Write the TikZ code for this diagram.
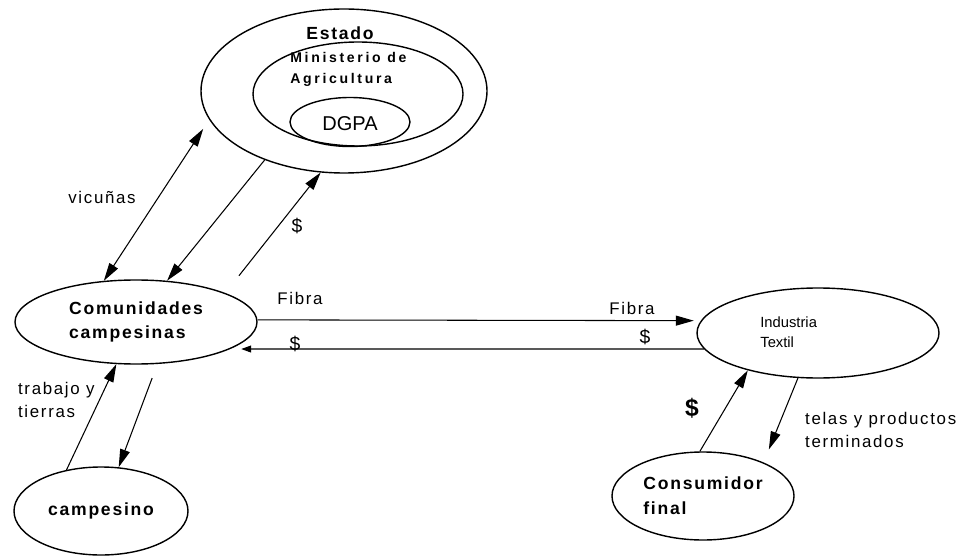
\documentclass[tikz,border=0pt]{standalone}
\usepackage{fontspec}
\setmainfont{Liberation Sans}
\newfontfamily\spaced[LetterSpace=10]{Liberation Sans}
\newfontfamily\widespaced[LetterSpace=19]{Liberation Sans}
\usetikzlibrary{arrows.meta,shapes.geometric}

\begin{document}
\begin{tikzpicture}[
  >={Triangle[length=3.6mm,width=2mm]},
  actor/.style={ellipse, draw, thick, inner sep=0pt, align=left,
    font=\spaced\bfseries\fontsize{10}{14}\selectfont},
  flow/.style={semithick},
  flowlabel/.style={font=\spaced\fontsize{9.6}{13.5}\selectfont, align=left, inner sep=1pt},
  money/.style={font=\fontsize{11}{12}\selectfont, inner sep=1pt}
]
\useasboundingbox (0,0) rectangle (19.32,11.14);
% Estado with its two inner rings
\node[actor, minimum width=5.72cm, minimum height=3.28cm] (estado) at (6.88,9.32) {};
\node[actor, minimum width=4.2cm, minimum height=2.08cm] (ministerio) at (7.16,9.26) {};
\node[actor, minimum width=2.4cm, minimum height=0.98cm] (dgpa) at (7.0,8.70) {};
\node[font=\spaced\bfseries\fontsize{10}{12}\selectfont] (estadotxt) at (6.8,10.48) {Estado};
\node[font=\widespaced\bfseries\fontsize{8}{12}\selectfont, align=left, anchor=west, inner sep=0pt]
  (ministeriotxt) at (5.8,9.75) {Ministerio de\\Agricultura};
\node[font=\fontsize{11.4}{13}\selectfont] (dgpatxt) at (7.0,8.66) {DGPA};
% the other actors
\node[actor, minimum width=4.84cm, minimum height=1.68cm] (comunidades) at (2.72,4.70) {Comunidades\\campesinas};
\node[actor, minimum width=3.48cm, minimum height=1.76cm] (campesino) at (2.02,0.92) {campesino};
\node[actor, minimum width=4.84cm, minimum height=1.8cm] (industria) at (16.36,4.48) {};
\node[font=\fontsize{8.4}{11.4}\selectfont, align=left, anchor=west, inner sep=0pt]
  (industriatxt) at (15.2,4.5) {Industria\\Textil};
\node[actor, minimum width=3.64cm, minimum height=1.76cm] (consumidor) at (14.06,1.22) {Consumidor\\final};
% flows
\draw[flow, <->, shorten >=0.22cm] (comunidades.128) -- (estado.192);
\draw[flow, ->] (estado.221) -- (comunidades.53);
\draw[flow, ->, shorten <=0.44cm] (comunidades.18) -- (estado.254);
\draw[flow, ->, shorten >=0.14cm] (comunidades.1) -- (industria.174);
\draw[flow, -{Triangle[length=2mm,width=1.4mm]}, shorten >=0.22cm] (industria.188) -- (comunidades.344);
\draw[flow, ->] (campesino.130) -- (comunidades.245);
\draw[flow, ->, shorten <=0.3cm] (comunidades.297) -- (campesino.68);
\draw[flow, ->] (consumidor.94) -- (industria.208);
\draw[flow, ->, shorten >=0.28cm] (industria.246) -- (consumidor.29);
% labels
\node[flowlabel] (vicunas) at (2.04,7.20) {vicuñas};
\node[money] (pagoestado) at (5.94,6.62) {\$};
\node[flowlabel] (fibrasale) at (6.0,5.18) {Fibra};
\node[flowlabel] (fibrallega) at (12.64,4.98) {Fibra};
\node[money] (pagoind) at (12.9,4.40) {\$};
\node[money] (pagocom) at (5.9,4.26) {\$};
\node[flowlabel, anchor=west] (trabajo) at (0.32,3.14) {trabajo y\\tierras};
\node[money, font=\bfseries\fontsize{14}{16}\selectfont] (pagocons) at (13.84,2.98) {\$};
\node[flowlabel, anchor=west] (telas) at (16.06,2.54) {telas y productos\\terminados};
\end{tikzpicture}
\end{document}
